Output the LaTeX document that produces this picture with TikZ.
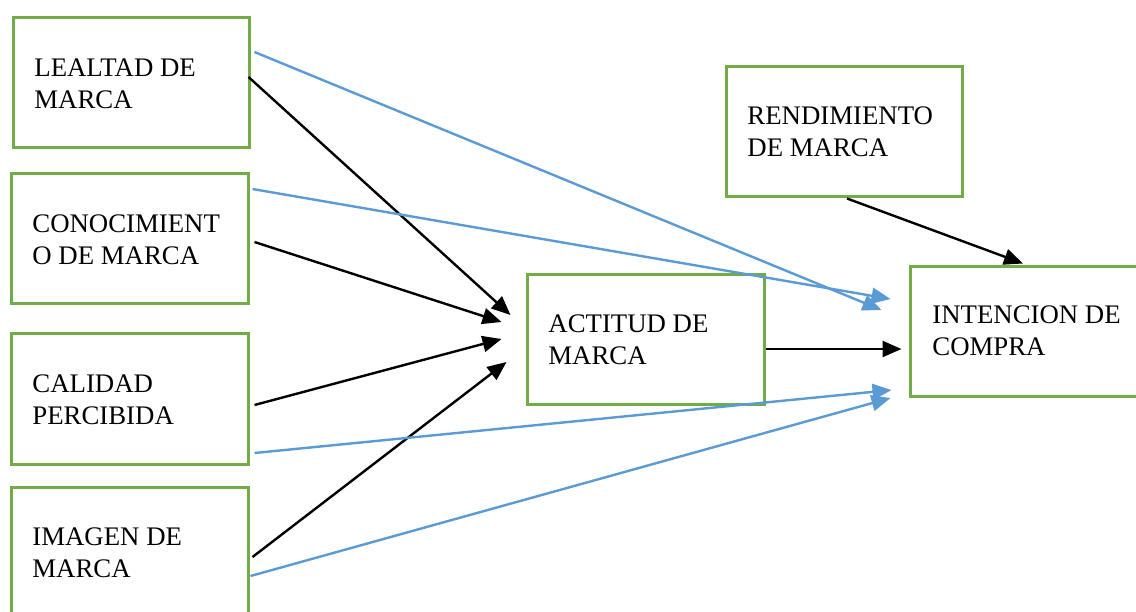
\documentclass[tikz,border=0pt]{standalone}
\usepackage{fontspec}
\setmainfont{Liberation Serif}
\usetikzlibrary{arrows.meta,calc}
\definecolor{boxgreen}{HTML}{70AD47}
\definecolor{lineblue}{HTML}{5B9BD5}
\tikzset{
  box/.style={draw=boxgreen, line width=1.5pt, fill=white, rectangle, inner sep=0pt},
  lbl/.style={anchor=base west, align=left, inner sep=0pt, font=\fontsize{13.4}{15.75}\selectfont},
  blk/.style={draw=black, line width=1.2pt, -{Triangle[length=9.5pt,width=8pt]}},
  blu/.style={draw=lineblue, line width=1.2pt, -{Triangle[length=9.5pt,width=8pt]}},
}
\begin{document}
\begin{tikzpicture}[x=0.5pt,y=-0.5pt]
\useasboundingbox (0,0) rectangle (1136,611);
\clip (0,0) rectangle (1136,611);
\fill[white] (0,0) rectangle (1136,611);
% boxes
\node[box, minimum width=118pt, minimum height=65pt] (lealtad) at (131,82) {};
\node[box, minimum width=118.5pt, minimum height=65pt] (conoc) at (129.5,238) {};
\node[box, minimum width=118.5pt, minimum height=65.5pt] (calidad) at (129.5,398.5) {};
\node[box, minimum width=118.5pt, minimum height=66.5pt] (imagen) at (129.5,553.5) {};
\node[box, minimum width=118.5pt, minimum height=65pt] (actitud) at (645.5,339) {};
\node[box, minimum width=118pt, minimum height=65pt] (rend) at (844,131) {};
\node[box, minimum width=117.5pt, minimum height=65pt] (intencion) at (1027.5,331) {};
% labels (anchored at the baseline of the last line)
\node[lbl] (tlealtad) at (34,108) {LEALTAD DE\\MARCA};
\node[lbl] (tconoc) at (32,264) {CONOCIMIENT\\O DE MARCA};
\node[lbl] (tcalidad) at (32,424) {CALIDAD\\PERCIBIDA};
\node[lbl] (timagen) at (32,577) {IMAGEN DE\\MARCA};
\node[lbl] (tactitud) at (548,364) {ACTITUD DE\\MARCA};
\node[lbl] (trend) at (747,156) {RENDIMIENTO\\DE MARCA};
\node[lbl] (tintencion) at (932,355) {INTENCION DE\\COMPRA};
% black connectors
\draw[blk] ($(lealtad.east)+(-2,-5)$) -- ($(actitud.west)+(-15,-24)$);
\draw[blk] ($(conoc.east)+(5,4)$) -- ($(actitud.west)+(-24,-17)$);
\draw[blk] ($(calidad.east)+(5,6.5)$) -- ($(actitud.west)+(-24,0)$);
\draw[blk] ($(imagen.east)+(3,3.5)$) -- ($(actitud.west)+(-19,23)$);
\draw[blk] ($(actitud.east)+(0,10)$) -- ($(intencion.west)+(-7,18)$);
\draw[blk] ($(rend.south)+(3,1)$) -- ($(intencion.north)+(-4.5,-1)$);
% blue connectors
\draw[blu] ($(lealtad.east)+(4,-30)$) -- ($(intencion.west)+(-27,-21)$);
\draw[blu] ($(conoc.east)+(3,-49)$) -- ($(intencion.west)+(-18,-32)$);
\draw[blu] ($(calidad.east)+(5,54.5)$) -- ($(intencion.west)+(-17,59)$);
\draw[blu] ($(imagen.east)+(1,22.5)$) -- ($(intencion.west)+(-18,67)$);
\end{tikzpicture}
\end{document}
